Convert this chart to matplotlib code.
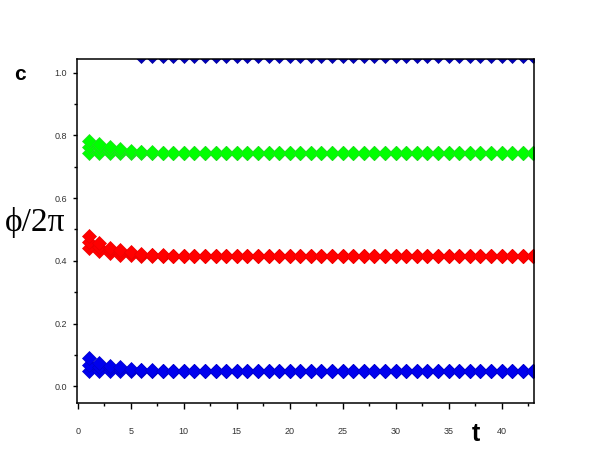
import numpy as np
import matplotlib
matplotlib.use("Agg")
import matplotlib.pyplot as plt
from matplotlib.ticker import MultipleLocator

# time steps
t = np.arange(1, 44)

# each cluster is a few oscillators that start apart and lock together
blue_hi = [0.089, 0.073, 0.066, 0.060, 0.056, 0.053, 0.051, 0.050] + [0.049] * 35
blue_mid = [0.068, 0.060, 0.057, 0.054, 0.052, 0.051, 0.050, 0.049] + [0.049] * 35
blue_lo = [0.050, 0.050, 0.050, 0.049, 0.049, 0.049, 0.049, 0.049] + [0.049] * 35

red_hi = [0.479, 0.458, 0.442, 0.434, 0.428, 0.423, 0.420, 0.418, 0.416] + [0.415] * 34
red_mid = [0.460, 0.445, 0.434, 0.428, 0.424, 0.420, 0.418, 0.416, 0.415] + [0.415] * 34
red_lo = [0.440, 0.430, 0.424, 0.420, 0.418, 0.416, 0.415, 0.415, 0.415] + [0.415] * 34

green_hi = [0.782, 0.772, 0.763, 0.756, 0.751, 0.748, 0.746] + [0.745] * 36
green_mid = [0.763, 0.760, 0.755, 0.751, 0.748, 0.746, 0.745] + [0.745] * 36
green_lo = [0.745, 0.745, 0.745, 0.745, 0.745, 0.745, 0.745] + [0.745] * 36

# blue cluster wrapped by one period, only seen from t = 6
t_top = np.arange(6, 44)
blue_top = [1.052] * 38

fig = plt.figure(figsize=(6.1, 4.61), dpi=100)
ax = fig.add_axes([0.126, 0.126, 0.75, 0.747])

ms = 7
for ys in (blue_lo, blue_mid, blue_hi):
    ax.plot(t, ys, 'D', color='#0000ee', mec='#0000cc', ms=ms, mew=0.5)
for ys in (red_lo, red_mid, red_hi):
    ax.plot(t, ys, 'D', color='#ff0000', mec='#ee0000', ms=ms, mew=0.5)
for ys in (green_lo, green_mid, green_hi):
    ax.plot(t, ys, 'D', color='#00ff00', mec='#22dd22', ms=ms, mew=0.5)
ax.plot(t_top, blue_top, 'D', color='#0000bb', mec='#000099', ms=ms, mew=0.5)

ax.set_xlim(-0.1, 43.1)
ax.set_ylim(-0.053, 1.045)

ax.xaxis.set_major_locator(MultipleLocator(5))
ax.xaxis.set_minor_locator(MultipleLocator(2.5))
ax.yaxis.set_major_locator(MultipleLocator(0.2))
ax.yaxis.set_minor_locator(MultipleLocator(0.1))
ax.yaxis.set_major_formatter(matplotlib.ticker.FormatStrFormatter('%.1f'))

ax.tick_params(axis='x', which='major', direction='out', length=4.5, width=1, pad=13,
               labelsize=6.5, labelcolor='#333333')
ax.tick_params(axis='x', which='minor', direction='out', length=2.5, width=1)
ax.tick_params(axis='y', which='major', direction='out', length=3, width=1, pad=4,
               labelsize=6.5, labelcolor='#333333')
ax.tick_params(axis='y', which='minor', direction='out', length=2, width=1)
for sp in ax.spines.values():
    sp.set_linewidth(1.1)

for lbl in ax.get_xticklabels() + ax.get_yticklabels():
    lbl.set_fontfamily(['Liberation Sans', 'DejaVu Sans'])

fig.text(20 / 610, 1 - 75 / 461, 'c', fontsize=15, fontweight='bold',
         family=['Liberation Sans', 'DejaVu Sans'], ha='center', va='center')
fig.text(35 / 610, 1 - 222 / 461, '\u03d5/2\u03c0', fontsize=24,
         family=['Liberation Serif', 'DejaVu Serif'], ha='center', va='center')
fig.text(476 / 610, 1 - 434 / 461, 't', fontsize=18, fontweight='bold',
         family=['Liberation Sans', 'DejaVu Sans'], ha='center', va='center')

fig.savefig('out.png', dpi=100)
